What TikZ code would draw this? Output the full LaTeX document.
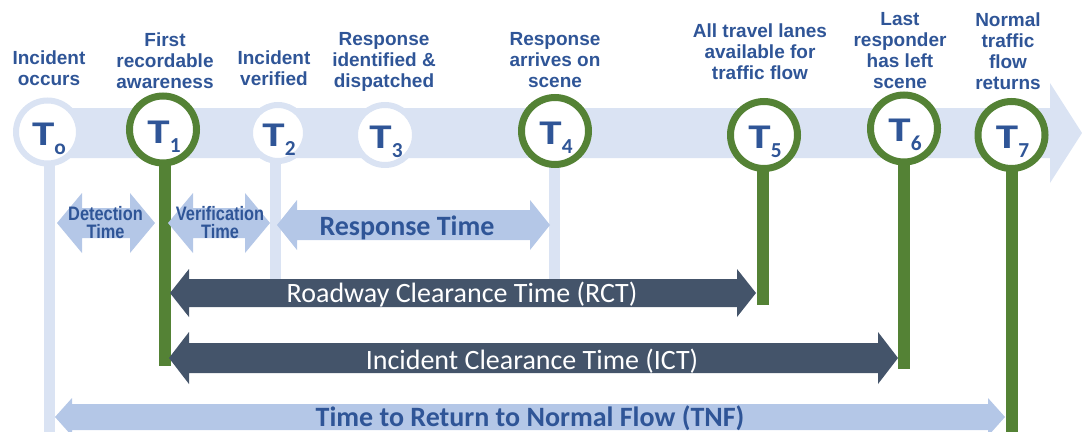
\documentclass[tikz,border=0pt]{standalone}
\usepackage{fontspec}
\setmainfont{Liberation Sans}
\newfontfamily\lblfam{Liberation Sans}
\newfontfamily\carl{Carlito}
\newfontfamily\tfam[FakeStretch=1.3]{Carlito}
\newfontfamily\narrowfam[FakeStretch=0.84]{Liberation Sans}
\usetikzlibrary{backgrounds}
\definecolor{band}{HTML}{DAE3F3}
\definecolor{tgreen}{HTML}{548235}
\definecolor{tblue}{HTML}{2F5597}
\definecolor{slate}{HTML}{44546A}
\definecolor{larrow}{HTML}{B4C7E7}
\newcommand\tlab[1]{{\tfam\bfseries\fontsize{26}{26}\selectfont T}\raisebox{-6.75pt}{\carl\bfseries\fontsize{16}{16}\selectfont #1}}
\newcommand\dblarrow[7]{%
  \fill[#1] (#2,#4) -- ({#2+#7},{#4-#6}) -- ({#2+#7},{#4-#5}) -- ({#3-#7},{#4-#5}) -- ({#3-#7},{#4-#6}) -- (#3,#4)
    -- ({#3-#7},{#4+#6}) -- ({#3-#7},{#4+#5}) -- ({#2+#7},{#4+#5}) -- ({#2+#7},{#4+#6}) -- cycle;}
\tikzset{
  lbl/.style={anchor=north, inner sep=0pt, align=center, text=tblue,
    font=\lblfam\bfseries\fontsize{14.25}{15.75}\selectfont},
  lcirc/.style={circle, draw=band, fill=white, line width=4.5pt, inner sep=0pt},
  gcirc/.style={circle, draw=tgreen, fill=white, line width=5.25pt, inner sep=0pt, minimum size=50.25pt},
  tlabel/.style={anchor=base, inner sep=0pt, text=tblue},
  lstem/.style={draw=band, line width=8.25pt},
  gstem/.style={draw=tgreen, line width=9pt},
  smallarr/.style={anchor=north, inner sep=0pt, align=center, text=tblue,
    font=\narrowfam\bfseries\fontsize{14.6}{13.5}\selectfont},
  bigtxt/.style={anchor=base, inner sep=0pt, font=\carl\fontsize{21}{24}\selectfont},
}
\begin{document}
\begin{tikzpicture}[x=0.75pt, y=-0.75pt]
\useasboundingbox (0,0) rectangle (1082,432);
% circles
\node[lcirc, minimum size=47.25pt] (c0) at (47.5,132) {};
\node[gcirc] (c1) at (163,129.5) {};
\node[lcirc, minimum size=42pt] (c2) at (278,133) {};
\node[lcirc, minimum size=45pt] (c3) at (385,135) {};
\node[gcirc] (c4) at (555,131) {};
\node[gcirc] (c5) at (764,135) {};
\node[gcirc] (c6) at (904,128.5) {};
\node[gcirc] (c7) at (1011.5,135) {};
% stem ends
\coordinate (e0) at (49,432);
\coordinate (e1) at (164.5,366);
\coordinate (e2) at (275,279);
\coordinate (e4) at (554,279);
\coordinate (e5) at (763,305);
\coordinate (e6) at (903.5,369);
\coordinate (e7) at (1012,432);
\begin{scope}[on background layer]
  \fill[band] (47,108) -- (1050,108) -- (1050,83) -- (1082,133) -- (1050,183) -- (1050,158) -- (47,158) -- cycle;
  \draw[lstem] (c0.center -| e0) -- (e0);
  \draw[lstem] (c2.center -| e2) -- (e2);
  \draw[lstem] (c4.center -| e4) -- (e4);
  \draw[gstem] (c1.center -| e1) -- (e1);
  \draw[gstem] (c5.center -| e5) -- (e5);
  \draw[gstem] (c6.center -| e6) -- (e6);
  \draw[gstem] (c7.center -| e7) -- (e7);
\end{scope}
% T labels
\node[tlabel] (t0) at (49,145) {\tlab{o}};
\node[tlabel] (t1) at (164,143) {\tlab{1}};
\node[tlabel] (t2) at (279,146) {\tlab{2}};
\node[tlabel] (t3) at (386,148) {\tlab{3}};
\node[tlabel] (t4) at (556,144) {\tlab{4}};
\node[tlabel] (t5) at (765,148) {\tlab{5}};
\node[tlabel] (t6) at (905,141.5) {\tlab{6}};
\node[tlabel] (t7) at (1012.5,148) {\tlab{7}};
% top labels
\node[lbl] (l0) at (49,50) {Incident\\occurs};
\node[lbl] (l1) at (165,32) {First\\recordable\\awareness};
\node[lbl] (l2) at (274,50) {Incident\\verified};
\node[lbl] (l3) at (384,32) {Response\\identified \&\\dispatched};
\node[lbl] (l4) at (555,32) {Response\\arrives on\\scene};
\node[lbl] (l5) at (760,23) {All travel lanes\\available for\\traffic flow};
\node[lbl] (l6) at (900,12) {Last\\responder\\has left\\scene};
\node[lbl] (l7) at (1008,12) {Normal\\traffic\\flow\\returns};
% interval arrows
\dblarrow{larrow}{57}{155}{223}{15}{30}{25}
\dblarrow{larrow}{168}{270}{223}{15}{30}{25}
\dblarrow{larrow}{277}{550}{225}{15}{25}{20}
\dblarrow{slate}{170}{756}{293}{14}{24}{19}
\dblarrow{slate}{169}{898}{358}{15}{26}{20}
\dblarrow{larrow}{55}{1005}{417}{13}{19}{17}
\node[smallarr] (dt) at (105.5,206) {Detection\\Time};
\node[smallarr] (vt) at (220,206) {Verification\\Time};
\node[bigtxt, text=tblue, font=\carl\bfseries\fontsize{21}{24}\selectfont] (rt) at (407,235) {Response Time};
\node[bigtxt, text=white] (rct) at (462,302.5) {Roadway Clearance Time (RCT)};
\node[bigtxt, text=white] (ict) at (532,369) {Incident Clearance Time (ICT)};
\node[bigtxt, text=tblue, font=\carl\bfseries\fontsize{21}{24}\selectfont] (tnf) at (530,426) {Time to Return to Normal Flow (TNF)};
\end{tikzpicture}
\end{document}
